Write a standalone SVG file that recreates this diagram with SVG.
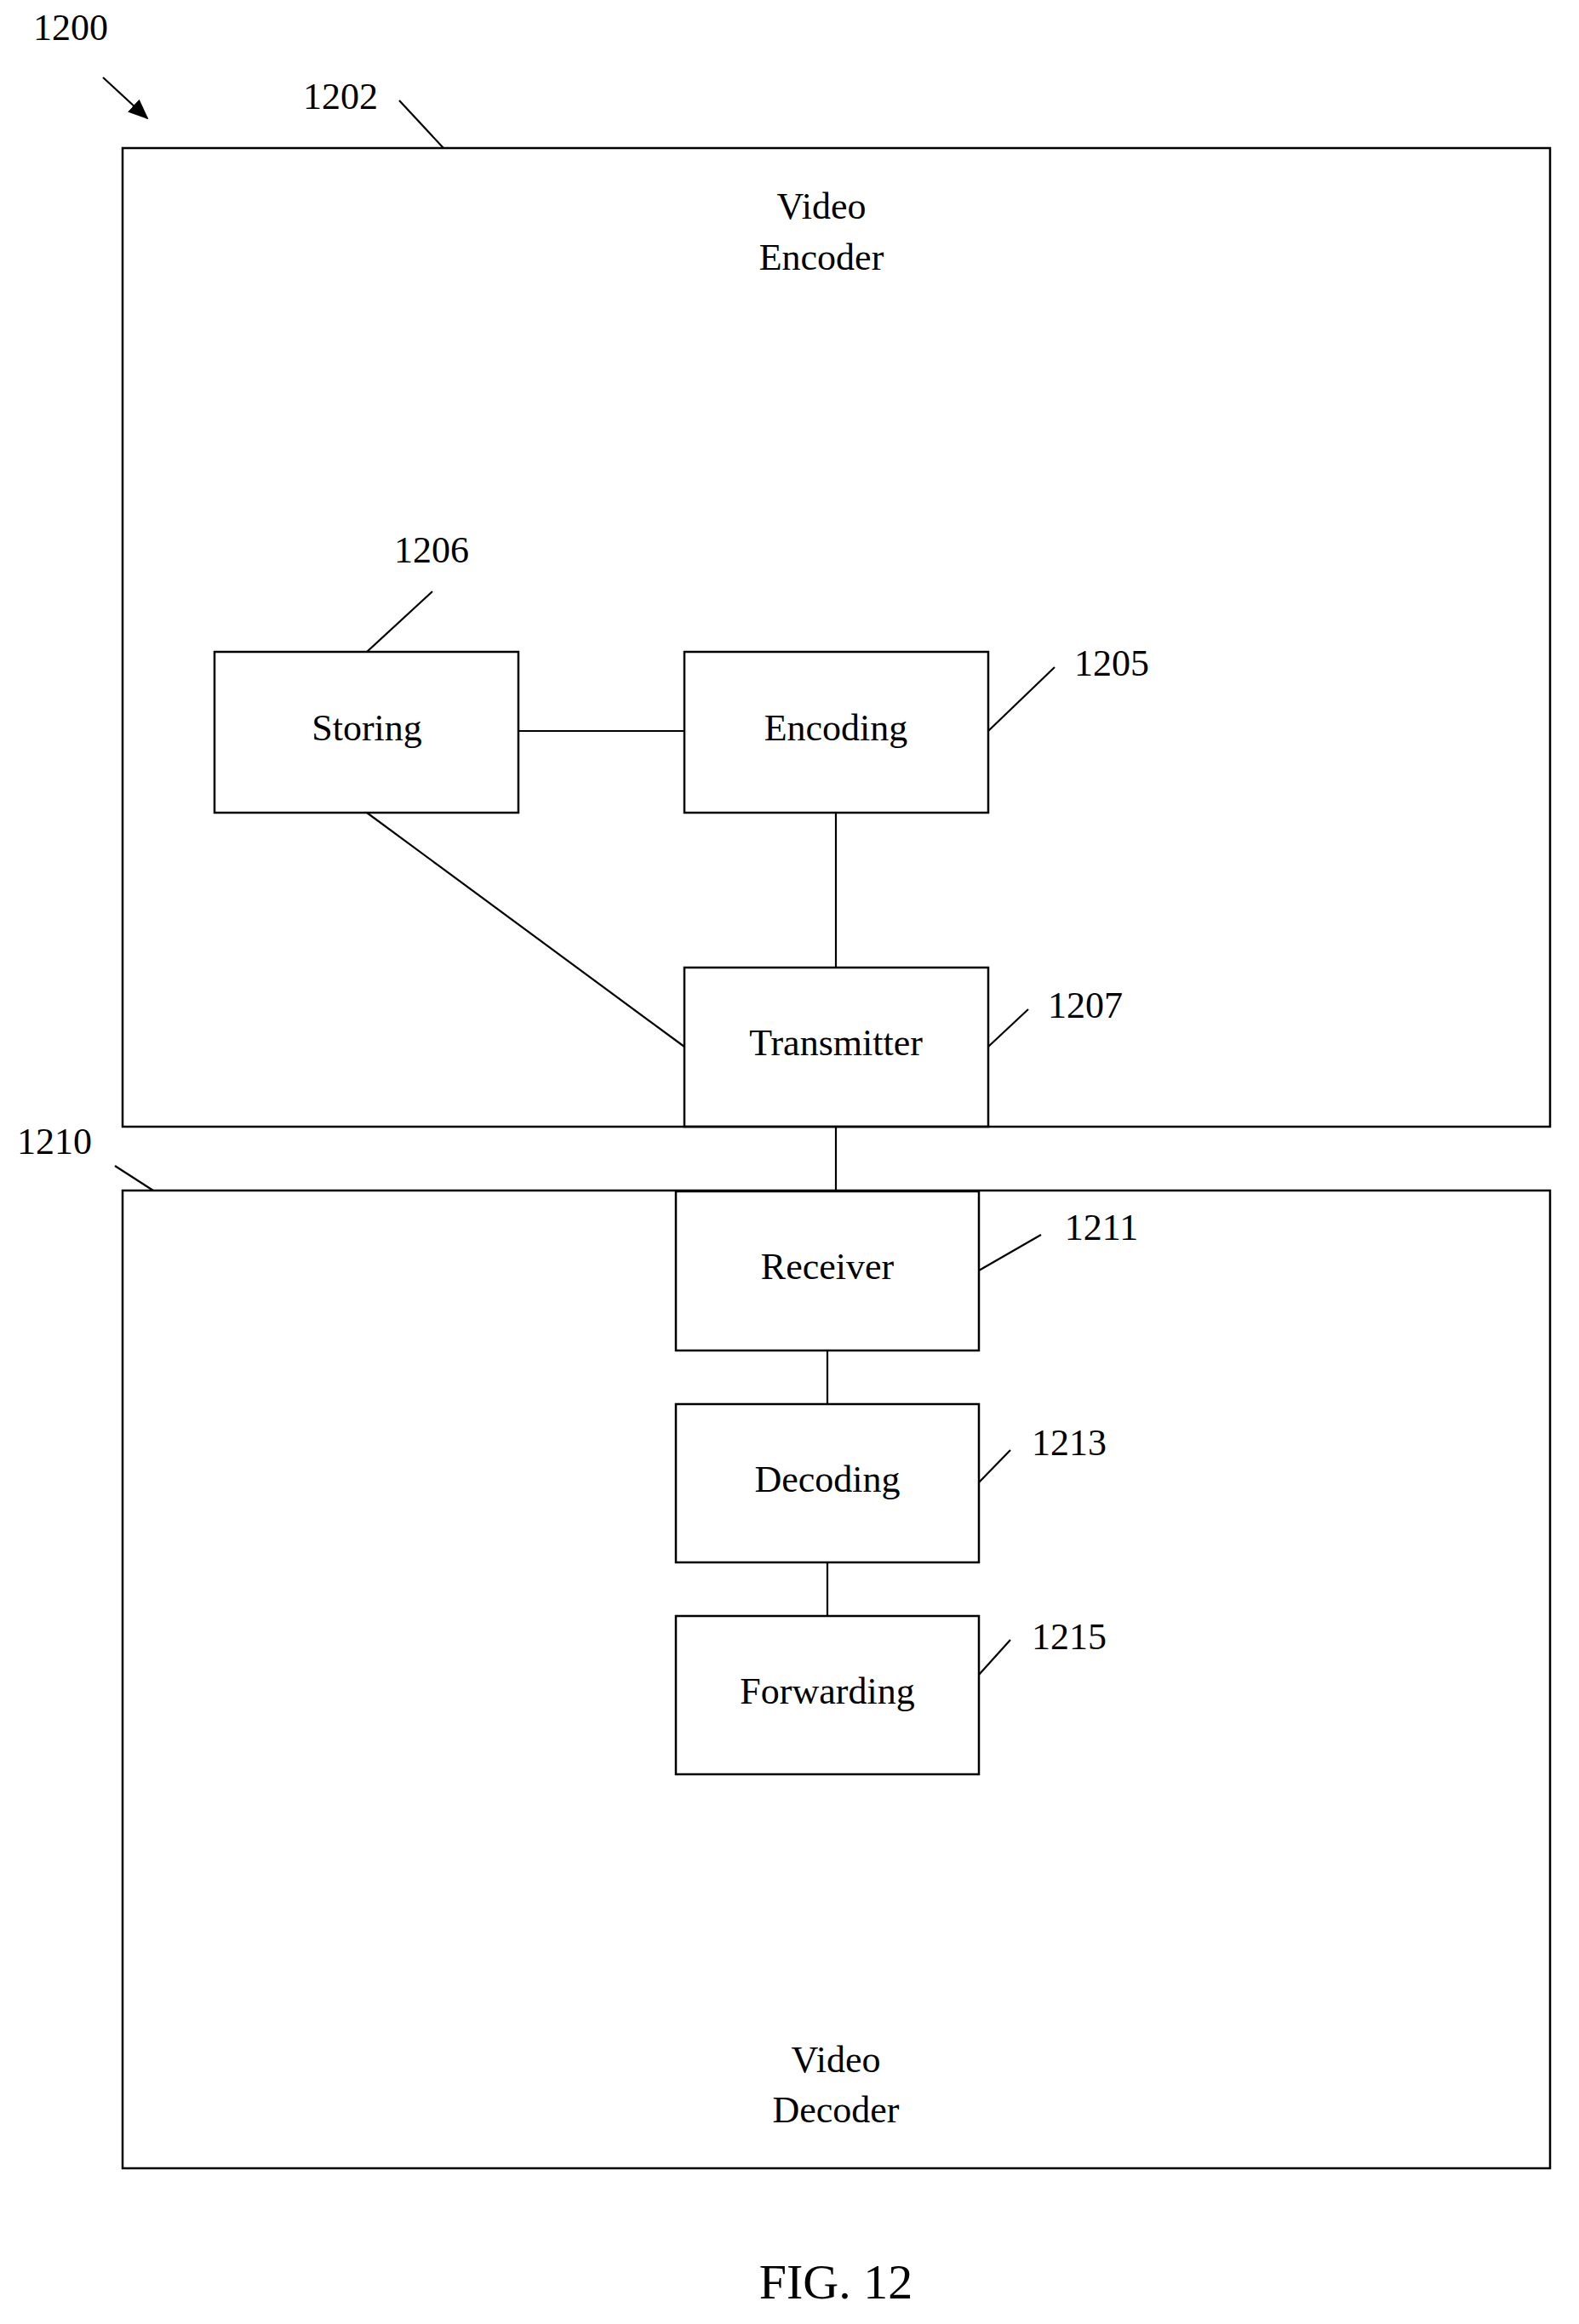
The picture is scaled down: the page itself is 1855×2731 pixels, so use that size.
<svg xmlns="http://www.w3.org/2000/svg" width="1855" height="2731" viewBox="0 0 1855 2731">
<style>
rect{fill:none;stroke:#000;stroke-width:2.5}
line{stroke:#000;stroke-width:2.2}
text{font-family:"Liberation Serif",serif;font-size:44px;fill:#000;text-anchor:middle;dominant-baseline:middle}
.n{text-anchor:start}
</style>
<defs><marker id="ah" markerWidth="10" markerHeight="10" refX="9" refY="5" orient="auto" markerUnits="userSpaceOnUse" viewBox="0 0 10 10"><path d="M0,0 L10,5 L0,10z"/></marker>
<marker id="a2" markerWidth="24" markerHeight="20" refX="22" refY="10" orient="auto" markerUnits="userSpaceOnUse"><path d="M0,0 L24,10 L0,20z"/></marker></defs>
<rect x="0" y="0" width="1855" height="2731" style="fill:#fff;stroke:none"/>
<g id="encoder"><rect x="144" y="174" width="1677" height="1150"/><text x="965" y="247">Video</text><text x="965" y="307">Encoder</text></g>
<g id="decoder"><rect x="144" y="1399" width="1677" height="1149"/><text x="982" y="2425">Video</text><text x="982" y="2484">Decoder</text></g>
<g id="storing"><rect x="252" y="766" width="357" height="189"/><text x="431" y="860">Storing</text></g>
<g id="encoding"><rect x="804" y="766" width="357" height="189"/><text x="982" y="860">Encoding</text></g>
<g id="transmitter"><rect x="804" y="1137" width="357" height="187"/><text x="982" y="1230">Transmitter</text></g>
<g id="receiver"><rect x="794" y="1400" width="356" height="187"/><text x="972" y="1493">Receiver</text></g>
<g id="decoding"><rect x="794" y="1650" width="356" height="186"/><text x="972" y="1743">Decoding</text></g>
<g id="forwarding"><rect x="794" y="1899" width="356" height="186"/><text x="972" y="1992">Forwarding</text></g>
<g id="connectors">
<line x1="609" y1="859" x2="804" y2="859"/>
<line x1="431" y1="955" x2="804" y2="1230"/>
<line x1="982" y1="955" x2="982" y2="1137"/>
<line x1="982" y1="1324" x2="982" y2="1400"/>
<line x1="972" y1="1587" x2="972" y2="1650"/>
<line x1="972" y1="1836" x2="972" y2="1899"/>
</g>
<g id="labels">
<text x="83" y="37">1200</text>
<line x1="121" y1="91" x2="173" y2="139" marker-end="url(#a2)"/>
<text x="400" y="118">1202</text><line x1="469" y1="118" x2="521" y2="174"/>
<text x="64" y="1346">1210</text><line x1="135" y1="1370" x2="180" y2="1399"/>
<text x="507" y="651">1206</text><line x1="508" y1="695" x2="431" y2="766"/>
<text x="1306" y="784">1205</text><line x1="1239" y1="784" x2="1161" y2="859"/>
<text x="1275" y="1186">1207</text><line x1="1208" y1="1186" x2="1161" y2="1230"/>
<text x="1294" y="1447">1211</text><line x1="1223" y1="1451" x2="1150" y2="1493"/>
<text x="1256" y="1700">1213</text><line x1="1187" y1="1704" x2="1150" y2="1742"/>
<text x="1256" y="1928">1215</text><line x1="1187" y1="1927" x2="1150" y2="1968"/>
<text x="982" y="2688" style="font-size:58px">FIG. 12</text>
</g>
</svg>
